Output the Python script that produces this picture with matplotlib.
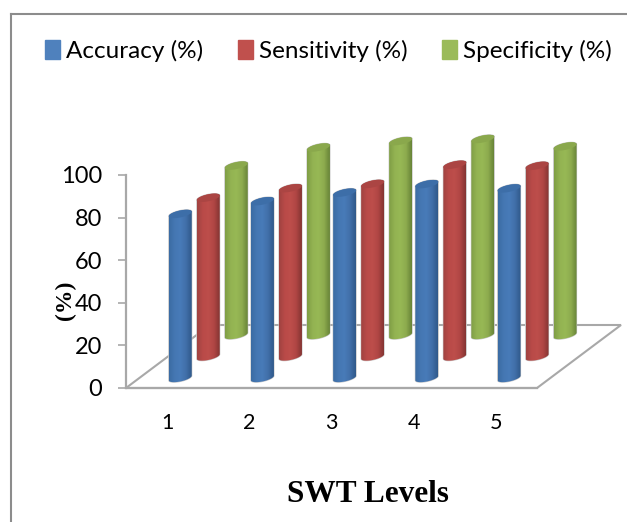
import numpy as np
import matplotlib
matplotlib.use('Agg')
import matplotlib.pyplot as plt
from matplotlib.colors import LinearSegmentedColormap
from matplotlib.lines import Line2D
from matplotlib.patches import Patch, Polygon

levels = [1, 2, 3, 4, 5]
accuracy = [77, 83, 87, 91, 89]
sensitivity = [74.5, 79, 81, 90, 89.5]
specificity = [79.5, 88, 91, 92, 88.5]
y_ticks = [0, 20, 40, 60, 80, 100]

W, H = 627, 522
plt.rcParams['font.family'] = ['Lato', 'DejaVu Sans']

fig = plt.figure(figsize=(W / 100, H / 100), dpi=100)
ax = fig.add_axes([126 / W, (H - 388) / H, 411 / W, 213 / H])
ax.set_xlim(0.5, 5.5)
ax.set_ylim(0, 100)

# pixel sizes in data units, the fake 3d is all done with these
px_x = 5 / 411
px_y = 100 / 213
depth_x = 28 * px_x
depth_y = 21.5 * px_y
half_w = 11.5 * px_x
half_h = 3.5 * px_y
tilt = 0.2 * px_y / px_x  # ellipses lean up to the right


def ellipse_pts(cx, cy, t):
    dx = half_w * np.cos(t)
    dy = half_h * np.sin(t) + tilt * dx
    return cx + dx, cy + dy


def cylinder(ax, cx, base, height, shades, top_color, z):
    t_low = np.linspace(np.pi, 2 * np.pi, 40)
    t_up = np.linspace(0, np.pi, 40)
    xb, yb = ellipse_pts(cx, base, t_low)
    xt, yt = ellipse_pts(cx, base + height, t_up)
    outline = Polygon(np.column_stack([np.r_[xb, xt], np.r_[yb, yt]]), closed=True,
                      facecolor='none', edgecolor='#c9c9c9', lw=0.8, clip_on=False, zorder=z)
    ax.add_patch(outline)
    cmap = LinearSegmentedColormap.from_list('c', shades)
    im = ax.imshow(np.linspace(0, 1, 64).reshape(1, -1), cmap=cmap, aspect='auto',
                   extent=[cx - half_w, cx + half_w, base - 10, base + height + 10],
                   zorder=z + 0.1, interpolation='bilinear')
    im.set_clip_path(outline)
    im.set_clip_box(fig.bbox)
    xc, yc = ellipse_pts(cx, base + height, np.linspace(0, 2 * np.pi, 60))
    ax.add_patch(Polygon(np.column_stack([xc, yc]), closed=True, facecolor=top_color,
                         edgecolor='none', clip_on=False, zorder=z + 0.2))


series = [
    (specificity, 2, ['#7f9e45', '#93b352', '#97b855', '#8dab4e', '#688438'], '#8aa84c', '#9bbb59', 'Specificity (%)'),
    (sensitivity, 1, ['#a04341', '#b94a48', '#bd4e4b', '#b04644', '#843432'], '#ab4543', '#c0504d', 'Sensitivity (%)'),
    (accuracy, 0, ['#3b6ca3', '#4577b3', '#487bb8', '#416fa9', '#30598a'], '#3d6ea8', '#4f81bd', 'Accuracy (%)'),
]

# floor of the chart
floor_color = '#a8a8a8'
floor_dx = 84 * px_x
floor_dy = 63 * px_y
fx = [0.5, 5.5, 5.5 + floor_dx, 0.5 + floor_dx]
fy = [0, 0, floor_dy, floor_dy]
ax.add_patch(Polygon(np.column_stack([fx, fy]), closed=True, facecolor='white',
                     edgecolor=floor_color, lw=1.5, clip_on=False, zorder=1))

for n, (values, d, shades, top, leg, lab) in enumerate(series):
    for lev, v in zip(levels, values):
        cx = lev + 0.16 + d * depth_x
        base = 4.7 + d * depth_y
        cylinder(ax, cx, base, v, shades, top, 2 + n)

for side in ['top', 'right']:
    ax.spines[side].set_visible(False)
for side in ['left', 'bottom']:
    ax.spines[side].set_color(floor_color)
    ax.spines[side].set_linewidth(1.6)
    ax.spines[side].set_zorder(1.5)

ax.set_xticks(levels)
ax.set_yticks(y_ticks)
ax.tick_params(axis='x', length=0, pad=18, labelsize=15.5, labelcolor='black')
ax.tick_params(axis='y', length=6, width=1.2, color=floor_color, pad=11, labelsize=17)
ax.set_ylim(0, 100)
ax.set_xlim(0.5, 5.5)

fig.text(65 / W, 1 - 300 / H, '(%)', rotation=90, ha='center', va='center',
         fontsize=17, fontweight='bold', family='Liberation Serif')
fig.text(367.5 / W, 1 - 495 / H, 'SWT Levels', ha='center', va='center',
         fontsize=22.5, fontweight='bold', family='Liberation Serif')

handles = [Patch(color=s[4], label=s[5]) for s in reversed(series)]
fig.legend(handles=handles, ncol=3, frameon=False, fontsize=17.5, handlelength=0.62,
           handleheight=0.8, handletextpad=0.25, columnspacing=1.42, borderpad=0, borderaxespad=0,
           loc='center left', bbox_to_anchor=(45 / W, 1 - 51 / H))

# border of the embedded picture, only left and top show
border = '#8c8c8c'
fig.add_artist(Line2D([11 / W, 11 / W], [0, 1 - 14 / H], color=border, lw=1.5))
fig.add_artist(Line2D([11 / W, 1], [1 - 14 / H, 1 - 14 / H], color=border, lw=1.5))

fig.savefig('out.png', dpi=100)
